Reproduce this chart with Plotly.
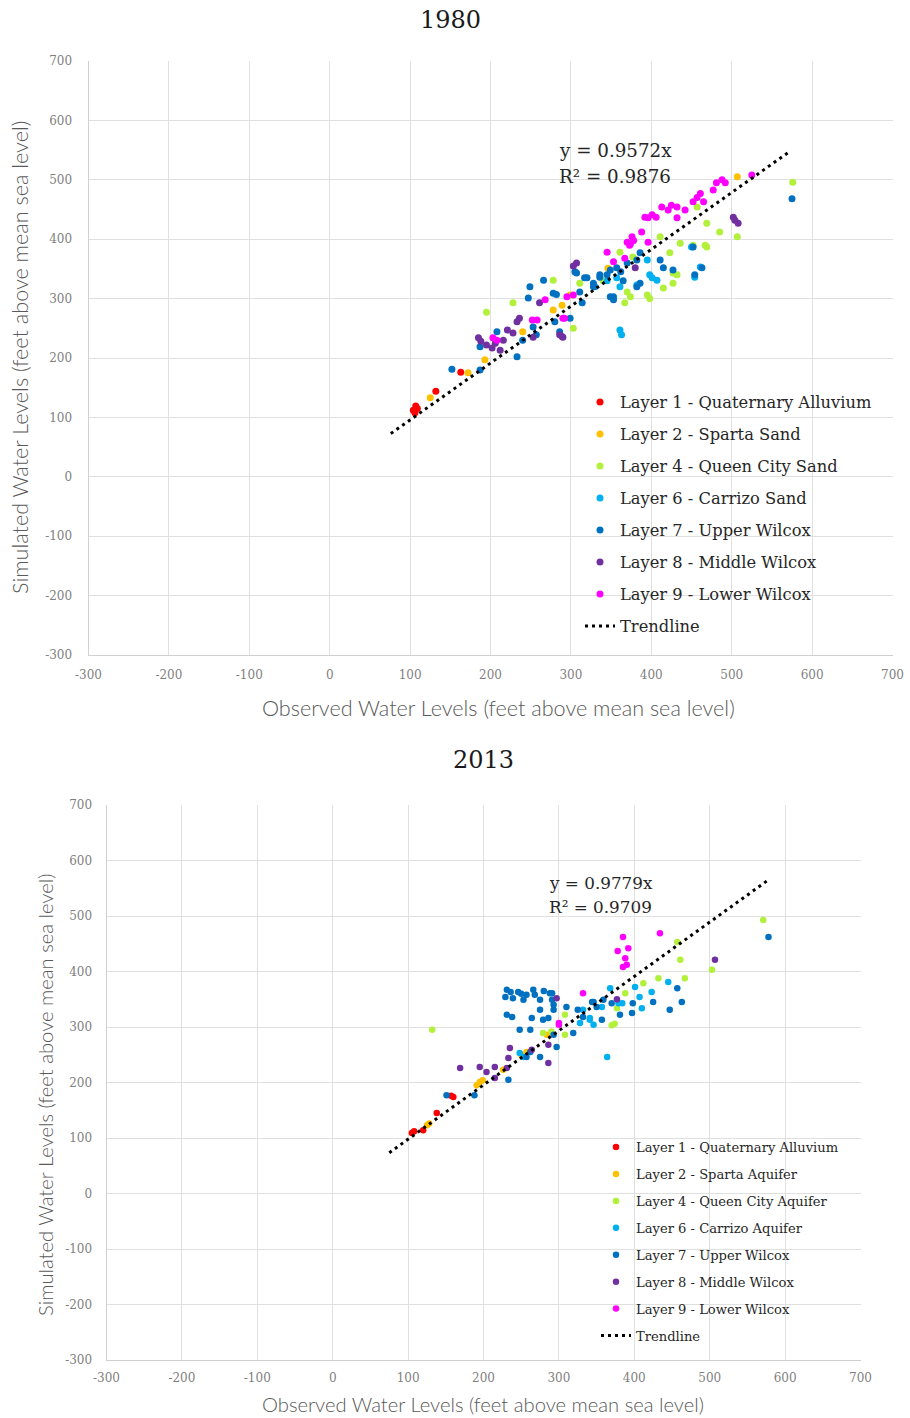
import plotly.graph_objects as go

W, H = 910, 1418

# ---------------- DATA ----------------
layer_names_1980 = ["Layer 1 - Quaternary Alluvium", "Layer 2 - Sparta Sand", "Layer 4 - Queen City Sand",
                    "Layer 6 - Carrizo Sand", "Layer 7 - Upper Wilcox", "Layer 8 - Middle Wilcox",
                    "Layer 9 - Lower Wilcox"]
layer_names_2013 = ["Layer 1 - Quaternary Alluvium", "Layer 2 - Sparta Aquifer", "Layer 4 - Queen City Aquifer",
                    "Layer 6 - Carrizo Aquifer", "Layer 7 - Upper Wilcox", "Layer 8 - Middle Wilcox",
                    "Layer 9 - Lower Wilcox"]
layer_colors = ["#FF0000", "#FFC000", "#B2F03C", "#00B0F0", "#0070C0", "#7030A0", "#FF00FF"]

# 1980 observed (x) / simulated (y)
l1_80_x = [104, 107, 109, 106, 132, 163]
l1_80_y = [112, 119, 115, 108, 144, 176]
l2_80_x = [125, 172, 193, 240, 278, 289, 299, 346, 507]
l2_80_y = [133, 175, 197, 244, 281, 289, 306, 351, 505]
l4_80_x = [195, 228, 278, 303, 311, 361, 367, 370, 374, 377, 395, 398, 411, 415, 423, 427, 432, 436, 452,
           457, 467, 469, 469, 485, 507, 576, 427, 340]
l4_80_y = [277, 293, 331, 250, 326, 378, 293, 311, 303, 370, 306, 300, 404, 318, 377, 343, 340, 393, 390,
           454, 390, 427, 387, 412, 404, 496, 326, 330]
l6_80_x = [361, 361, 363, 398, 407, 395, 401, 382, 461, 454, 450, 357, 330, 345]
l6_80_y = [320, 247, 239, 340, 331, 365, 335, 323, 353, 336, 387, 335, 320, 330]
l7_80_x = [152, 187, 187, 208, 233, 247, 249, 266, 253, 257, 278, 282, 280, 299, 307, 311, 314, 320, 328,
           336, 353, 286, 240, 305, 317, 328, 336, 349, 357, 370, 382, 386, 411, 415, 427, 452, 454, 463,
           349, 353, 386, 382, 575, 345, 362, 365]
l7_80_y = [181, 219, 180, 244, 202, 301, 320, 331, 252, 239, 309, 307, 261, 267, 343, 311, 293, 335, 326,
           336, 303, 244, 230, 345, 335, 320, 340, 348, 352, 360, 365, 377, 365, 352, 348, 387, 340, 352,
           303, 298, 326, 320, 468, 340, 345, 330]
l8_80_x = [185, 188, 202, 206, 212, 216, 221, 228, 233, 236, 253, 261, 286, 289, 307, 303, 502, 504, 508,
           380, 290, 195]
l8_80_y = [234, 228, 217, 225, 213, 230, 247, 242, 261, 267, 235, 293, 239, 236, 360, 355, 437, 432, 427,
           352, 235, 222]
l9_80_x = [203, 208, 252, 258, 268, 290, 303, 295, 292, 345, 353, 367, 376, 378, 374, 388, 396, 392, 396,
           401, 406, 413, 421, 425, 432, 432, 442, 452, 461, 465, 457, 477, 481, 488, 492, 525, 370, 373]
l9_80_y = [234, 230, 264, 264, 298, 267, 306, 303, 267, 378, 362, 368, 404, 398, 392, 412, 395, 437, 436,
           441, 437, 454, 449, 457, 454, 436, 449, 463, 477, 463, 470, 483, 495, 500, 495, 508, 395, 390]

# 2013 observed (x) / simulated (y)
l1_13_x = [105, 108, 120, 138, 160, 157]
l1_13_y = [109, 112, 114, 145, 174, 176]
l2_13_x = [125, 128, 191, 195, 199, 226, 257, 250, 284]
l2_13_y = [123, 126, 195, 201, 204, 223, 255, 250, 286]
l4_13_x = [132, 279, 308, 571, 457, 461, 503, 412, 432, 467, 388, 377, 370, 374, 308, 290]
l4_13_y = [295, 289, 286, 493, 453, 421, 403, 379, 388, 388, 361, 334, 303, 306, 322, 292]
l6_13_x = [364, 401, 407, 423, 445, 410, 368, 341, 332, 384, 341, 346, 328, 357, 253, 248, 379]
l6_13_y = [246, 372, 354, 363, 381, 334, 370, 316, 331, 343, 313, 304, 307, 336, 246, 253, 343]
l7_13_x = [231, 229, 239, 246, 253, 257, 266, 268, 275, 288, 291, 231, 238, 264, 275, 279, 286, 293, 293,
           248, 262, 293, 233, 151, 188, 257, 275, 297, 310, 319, 325, 332, 344, 350, 357, 262, 291, 346,
           359, 370, 398, 397, 425, 447, 463, 457, 578, 381, 236, 250, 280]
l7_13_y = [367, 354, 352, 363, 349, 358, 367, 358, 349, 361, 349, 322, 318, 316, 331, 313, 316, 331, 340,
           295, 295, 286, 205, 177, 177, 246, 246, 264, 336, 289, 331, 318, 345, 336, 313, 255, 361, 345,
           349, 343, 343, 325, 345, 331, 345, 370, 462, 322, 363, 360, 365]
l8_13_x = [169, 195, 204, 215, 215, 231, 233, 235, 264, 286, 286, 297, 377, 507]
l8_13_y = [226, 228, 219, 228, 208, 226, 244, 262, 259, 235, 268, 352, 350, 421]
l9_13_x = [385, 434, 378, 392, 388, 385, 390, 332, 300, 300]
l9_13_y = [462, 469, 437, 442, 424, 408, 412, 361, 304, 307]

x_1980 = [l1_80_x, l2_80_x, l4_80_x, l6_80_x, l7_80_x, l8_80_x, l9_80_x]
y_1980 = [l1_80_y, l2_80_y, l4_80_y, l6_80_y, l7_80_y, l8_80_y, l9_80_y]
x_2013 = [l1_13_x, l2_13_x, l4_13_x, l6_13_x, l7_13_x, l8_13_x, l9_13_x]
y_2013 = [l1_13_y, l2_13_y, l4_13_y, l6_13_y, l7_13_y, l8_13_y, l9_13_y]

trend_slope_1980 = 0.9572
trend_r2_1980 = 0.9876
trend_xrange_1980 = [76, 573]
trend_slope_2013 = 0.9779
trend_r2_2013 = 0.9709
trend_xrange_2013 = [75, 579]

axis_ticks = [-300, -200, -100, 0, 100, 200, 300, 400, 500, 600, 700]
axis_tick_labels = ["-300", "-200", "-100", "0", "100", "200", "300", "400", "500", "600", "700"]

# ---------------- FIGURE ----------------
SERIF = "DejaVu Serif"
SANS = "Lato"
fig = go.Figure()


def px_x(p):
    return p / W


def px_y(p):
    return 1 - p / H


for i in range(7):
    fig.add_trace(go.Scatter(
        x=x_1980[i], y=y_1980[i], mode="markers", name=layer_names_1980[i],
        marker=dict(color=layer_colors[i], size=7), xaxis="x", yaxis="y",
        legend="legend", legendgroup="a%d" % i))
fig.add_trace(go.Scatter(
    x=trend_xrange_1980, y=[trend_slope_1980 * v for v in trend_xrange_1980], mode="lines",
    name="Trendline", line=dict(color="black", width=3, dash="3px,4px"), xaxis="x", yaxis="y",
    legend="legend", legendgroup="a7"))

for i in range(7):
    fig.add_trace(go.Scatter(
        x=x_2013[i], y=y_2013[i], mode="markers", name=layer_names_2013[i],
        marker=dict(color=layer_colors[i], size=6.5), xaxis="x2", yaxis="y2",
        legend="legend2", legendgroup="b%d" % i))
fig.add_trace(go.Scatter(
    x=trend_xrange_2013, y=[trend_slope_2013 * v for v in trend_xrange_2013], mode="lines",
    name="Trendline", line=dict(color="black", width=3, dash="3px,4px"), xaxis="x2", yaxis="y2",
    legend="legend2", legendgroup="b7"))

grid = "#E0E0E0"
tickfont = dict(family=SERIF, size=12, color="#7F7F7F")
common = dict(range=[-300, 700], tickvals=axis_ticks, ticktext=axis_tick_labels, showgrid=True,
              gridcolor=grid, gridwidth=1, zeroline=False, showline=True, linecolor="#D0D0D0",
              linewidth=1, ticks="", tickfont=tickfont, fixedrange=True, automargin=False)

fig.update_layout(
    width=W, height=H, margin=dict(l=0, r=0, t=0, b=0, autoexpand=False),
    paper_bgcolor="white", plot_bgcolor="white",
    xaxis=dict(domain=[px_x(88.5), px_x(892.5)], anchor="y", ticklabelstandoff=9, **common),
    yaxis=dict(domain=[px_y(655), px_y(61)], anchor="x", ticklabelstandoff=13, **common),
    xaxis2=dict(domain=[px_x(106.5), px_x(860.5)], anchor="y2", ticklabelstandoff=7, **common),
    yaxis2=dict(domain=[px_y(1360), px_y(805)], anchor="x2", ticklabelstandoff=11, **common),
    legend=dict(x=px_x(580), y=px_y(385), xanchor="left", yanchor="top", bgcolor="rgba(0,0,0,0)",
                font=dict(family=SERIF, size=16.3, color="#262626"), tracegroupgap=7.8, itemsizing="trace"),
    legend2=dict(x=px_x(596), y=px_y(1132), xanchor="left", yanchor="top", bgcolor="rgba(0,0,0,0)",
                 font=dict(family=SERIF, size=13.1, color="#262626"), tracegroupgap=6.9, itemsizing="trace"),
    showlegend=True,
)


def text_ann(text, x, y, size, family, color="#262626", xanchor="left", angle=0, weight="normal"):
    return dict(text=text, x=px_x(x), y=px_y(y), xref="paper", yref="paper", showarrow=False,
                xanchor=xanchor, yanchor="middle", textangle=angle,
                font=dict(family=family, size=size, color=color, weight=weight))


annotations = [
    text_ann("1980", 450, 20, 24, SERIF, "#1a1a1a", "center"),
    text_ann("2013", 483, 760, 24, SERIF, "#1a1a1a", "center"),
    text_ann("Observed Water Levels (feet above mean sea level)", 498, 708, 21.6, SANS, "#595959", "center",
             weight=300),
    text_ann("Simulated Water Levels (feet above mean sea level)", 20, 358, 21.6, SANS, "#595959", "center", -90,
             weight=300),
    text_ann("Observed Water Levels (feet above mean sea level)", 483, 1404, 20.2, SANS, "#595959", "center",
             weight=300),
    text_ann("Simulated Water Levels (feet above mean sea level)", 45, 1095, 20.2, SANS, "#595959", "center", -90,
             weight=300),
    text_ann("y = %.4fx" % trend_slope_1980, 557, 150, 18.3, SERIF),
    text_ann("R² = %.4f" % trend_r2_1980, 557, 176, 18.3, SERIF),
    text_ann("y = %.4fx" % trend_slope_2013, 547, 883, 16.8, SERIF),
    text_ann("R² = %.4f" % trend_r2_2013, 547, 907, 16.8, SERIF),
]
fig.update_layout(annotations=annotations)

fig.write_html("out.html", config={"displayModeBar": False},
               post_script="document.body.style.margin='0';document.body.style.overflow='hidden';")
